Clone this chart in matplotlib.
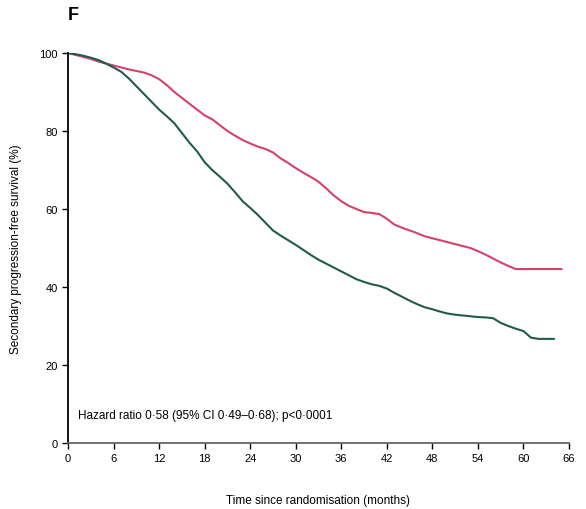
import matplotlib
matplotlib.use("Agg")
import matplotlib.pyplot as plt
import numpy as np

plt.rcParams['font.family'] = ['Liberation Sans', 'DejaVu Sans']

# Months (0..65) and survival (%) for the two arms
months_red = list(range(0, 66))
surv_red = [100, 99.5, 99, 98.5, 97.8, 97.3, 96.8, 96.3, 95.8, 95.4,
            95, 94.3, 93.3, 91.8, 90, 88.5, 87, 85.5, 84, 83,
            81.5, 80, 78.8, 77.7, 76.8, 76, 75.4, 74.5, 73, 71.8,
            70.5, 69.3, 68.2, 67, 65.3, 63.5, 62, 60.8, 60, 59.2,
            59, 58.7, 57.5, 56, 55.2, 54.5, 53.8, 53, 52.5, 52,
            51.5, 51, 50.5, 50, 49.2, 48.3, 47.3, 46.3, 45.4, 44.6,
            44.6, 44.6, 44.6, 44.6, 44.6, 44.6]

months_green = list(range(0, 65))
surv_green = [100, 99.7, 99.3, 98.8, 98.2, 97.3, 96.3, 95.2, 93.5, 91.5,
              89.5, 87.5, 85.5, 83.8, 82, 79.5, 77, 74.8, 72, 70,
              68.3, 66.5, 64.3, 62, 60.3, 58.5, 56.5, 54.5, 53.2, 52,
              50.8, 49.5, 48.2, 47, 46, 45, 44, 43, 42, 41.3,
              40.7, 40.3, 39.6, 38.5, 37.5, 36.5, 35.6, 34.8, 34.3, 33.7,
              33.2, 32.9, 32.7, 32.5, 32.3, 32.2, 32, 30.8, 30, 29.3,
              28.7, 27, 26.7, 26.7, 26.7]

xticks = [0, 6, 12, 18, 24, 30, 36, 42, 48, 54, 60, 66]
yticks = [0, 20, 40, 60, 80, 100]

fig = plt.figure(figsize=(5.86, 5.10), dpi=100)
ax = fig.add_axes([68/586, 1-444/510, (569-68)/586, (444-54)/510])

ax.plot(months_red, surv_red, color='#d6416a', lw=1.5)
ax.plot(months_green, surv_green, color='#1f5c4c', lw=1.5)

ax.set_xlim(0, 66)
ax.set_ylim(0, 100)
ax.set_xticks(xticks)
ax.set_yticks(yticks)
ax.tick_params(labelsize=8, length=4, width=1, direction='out')
for s in ['top', 'right']:
    ax.spines[s].set_visible(False)
for s in ['left', 'bottom']:
    ax.spines[s].set_linewidth(1.3)
ax.spines['bottom'].set_color('#666666')

ax.set_xlabel('Time since randomisation (months)', fontsize=8.5, labelpad=22)
ax.set_ylabel('Secondary progression-free survival (%)', fontsize=8.5, labelpad=12)

ax.text(1.3, 6.5, 'Hazard ratio 0·58 (95% CI 0·49–0·68); p<0·0001', fontsize=8.5)
fig.text(68/586, 1-16/510, 'F', fontsize=13, fontweight='bold', va='center', ha='left')

fig.savefig('out.png', dpi=100, facecolor='white')
